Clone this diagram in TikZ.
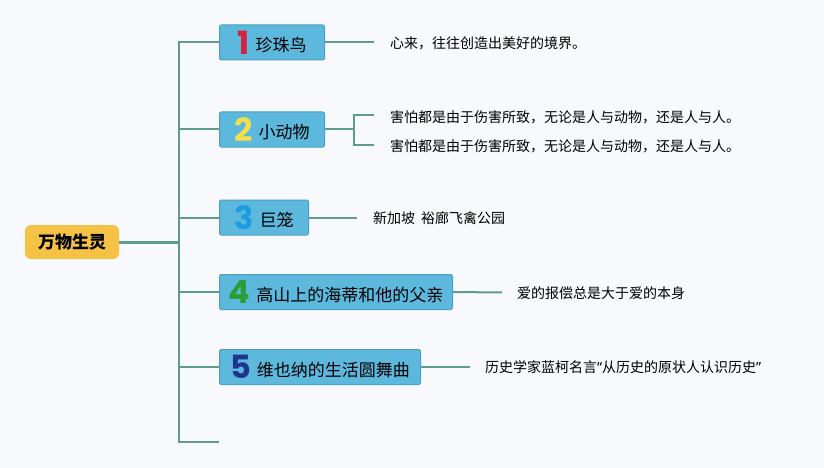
\documentclass[tikz,border=0pt]{standalone}
\usepackage{fontspec}
\setmainfont{Noto Sans CJK SC}
\newfontfamily\numfont{Poppins}
\newfontfamily\quotefont{Noto Sans}
\definecolor{bg}{HTML}{F8F9FD}
\definecolor{boxfill}{HTML}{5CB8DC}
\definecolor{boxline}{HTML}{4C9FC2}
\definecolor{rootfill}{HTML}{F5C246}
\definecolor{conn}{HTML}{5E9C8C}
\definecolor{nred}{HTML}{D8213A}
\definecolor{nyellow}{HTML}{F2E04A}
\definecolor{nblue}{HTML}{1E9BE3}
\definecolor{ngreen}{HTML}{2A9E35}
\definecolor{nnavy}{HTML}{1F3590}
\newcommand{\numlbl}[2]{\raisebox{-2.5pt}{\numfont\bfseries\fontsize{32}{32}\selectfont\textcolor{#1}{#2}}\hspace{6pt}}
\begin{document}
\begin{tikzpicture}[x=1pt,y=-1pt,
  topicbox/.style={draw=boxline,line width=1pt,fill=boxfill,rounded corners=2pt,
    minimum height=35pt,inner sep=0pt,anchor=west,font=\fontsize{17}{17}\selectfont},
  rootbox/.style={fill=rootfill,rounded corners=6pt,minimum width=94pt,minimum height=34pt,
    inner sep=0pt,font=\fontsize{17}{17}\selectfont\bfseries},
  leaf/.style={anchor=west,inner sep=0pt,font=\fontsize{14}{14}\selectfont},
  conline/.style={draw=conn,line width=2pt},
]
\useasboundingbox[fill=bg] (0,0) rectangle (824,468);

\node[rootbox] (root) at (72,242) {万物生灵};

\node[topicbox,minimum width=105pt] (b1) at (219,42.5) {\numlbl{nred}{1}珍珠鸟};
\node[topicbox,minimum width=105pt] (b2) at (219,129.5) {\numlbl{nyellow}{2}小动物};
\node[topicbox,minimum width=89pt] (b3) at (219,217.5) {\numlbl{nblue}{3}巨笼};
\node[topicbox,minimum width=233pt] (b4) at (219,292) {\numlbl{ngreen}{4}高山上的海蒂和他的父亲};
\node[topicbox,minimum width=201pt] (b5) at (219,367) {\numlbl{nnavy}{5}维也纳的生活圆舞曲};

\coordinate (ttop) at (179,42.5);
\coordinate (tbot) at (179,442);
\coordinate (stub) at (219,442);
\coordinate (troot) at (179,242);

\draw[conline] (b1.west) -- (ttop) -- (tbot) -- (stub);
\draw[conline,line width=3pt] (root.east) -- (troot);
\draw[conline] (b2.west) -- (b2.west -| ttop);
\draw[conline] (b3.west) -- (b3.west -| ttop);
\draw[conline] (b4.west) -- (b4.west -| ttop);
\draw[conline] (b5.west) -- (b5.west -| ttop);

% leaves
\coordinate (e1) at (374,42.5);
\node[leaf] (l1) at (390,43) {心来，往往创造出美好的境界。};
\draw[conline] (b1.east) -- (e1);

\coordinate (f2) at (354,129.5);
\coordinate (e2a) at (374,115);
\coordinate (e2b) at (374,145);
\node[leaf] (l2a) at (390,117) {害怕都是由于伤害所致，无论是人与动物，还是人与人。};
\node[leaf] (l2b) at (390,146.5) {害怕都是由于伤害所致，无论是人与动物，还是人与人。};
\draw[conline] (b2.east) -- (f2);
\draw[conline] (e2a) -| (f2) |- (e2b);

\coordinate (e3) at (357,217.5);
\node[leaf] (l3) at (373,218.5) {新加坡\hspace{6pt}裕廊飞禽公园};
\draw[conline] (b3.east) -- (e3);

\coordinate (e4) at (502,292.5);
\node[leaf] (l4) at (517,293) {爱的报偿总是大于爱的本身};
\draw[conline] (b4.east) -- (e4);

\coordinate (e5) at (470,367);
\node[leaf] (l5) at (485,367.5) {历史学家蓝柯名言{\quotefont “}从历史的原状人认识历史{\quotefont ”}};
\draw[conline] (b5.east) -- (e5);
\end{tikzpicture}
\end{document}
